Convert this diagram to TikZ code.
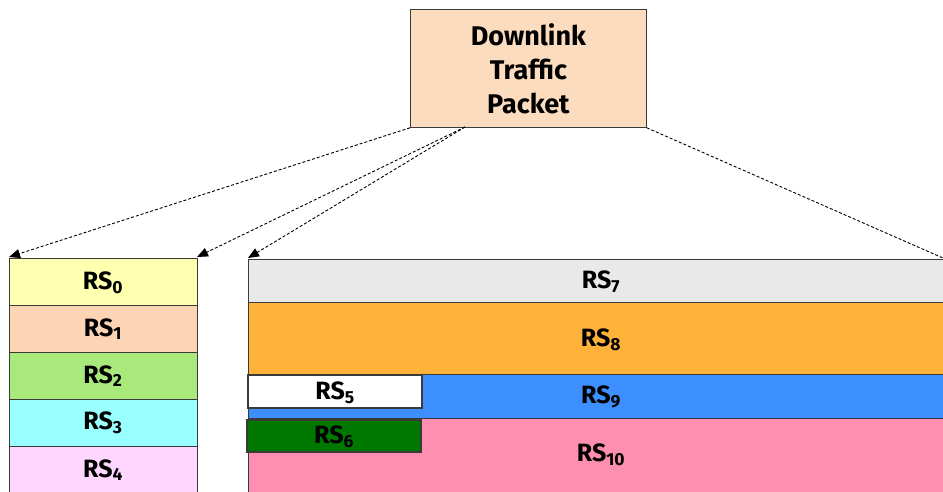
\documentclass[tikz,border=0pt]{standalone}
\usepackage{fontspec}
\setmainfont{Fira Sans}
\usetikzlibrary{arrows.meta}
\definecolor{packetfill}{HTML}{FCDCBE}
\definecolor{rsyellow}{HTML}{FFFFB0}
\definecolor{rspeach}{HTML}{FCD5B4}
\definecolor{rsgreen}{HTML}{A9E97C}
\definecolor{rscyan}{HTML}{99FFFF}
\definecolor{rspink}{HTML}{FFD6FF}
\definecolor{rsgray}{HTML}{E9E9E9}
\definecolor{rsorange}{HTML}{FFB23A}
\definecolor{rsblue}{HTML}{3D8FFF}
\definecolor{rsrose}{HTML}{FF8FB0}
\definecolor{rsdark}{HTML}{007800}
\definecolor{edge}{HTML}{3A3A3A}
\begin{document}
\begin{tikzpicture}[x=1pt,y=-1pt,
  band/.style={draw=edge,line width=0.8pt},
  lbl/.style={font=\bfseries\fontsize{25}{28}\selectfont,inner sep=0pt},
  feed/.style={densely dashed,line width=0.9pt,black,-{Triangle[length=11pt,width=9pt]}}]
\useasboundingbox (0,0) rectangle (943,491);

% source packet
\node[band,fill=packetfill,minimum width=236pt,minimum height=118pt,anchor=north west,
  align=center,font=\bfseries\fontsize{27}{34}\selectfont,inner sep=0pt] (pkt) at (410,9)
  {Downlink\\Traffic\\Packet};

% left stack RS0..RS4
\draw[band,fill=rsyellow] (9,258) rectangle (197,305);
\draw[band,fill=rspeach]  (9,305) rectangle (197,352);
\draw[band,fill=rsgreen]  (9,352) rectangle (197,399);
\draw[band,fill=rscyan]   (9,399) rectangle (197,446);
\draw[band,fill=rspink]   (9,446) rectangle (197,500);
\node[lbl] (rs0) at (103,283) {RS\textsubscript{0}};
\node[lbl] (rs1) at (103,329) {RS\textsubscript{1}};
\node[lbl] (rs2) at (103,376) {RS\textsubscript{2}};
\node[lbl] (rs3) at (103,423) {RS\textsubscript{3}};
\node[lbl] (rs4) at (103,470) {RS\textsubscript{4}};

% right stack RS7..RS10
\draw[band,fill=rsgray]   (248,259) rectangle (950,302);
\draw[band,fill=rsorange] (248,302) rectangle (950,374);
\draw[band,fill=rsblue]   (248,374) rectangle (950,418);
\draw[band,fill=rsrose]   (248,418) rectangle (950,500);
\node[lbl] (rs7)  at (601,282) {RS\textsubscript{7}};
\node[lbl] (rs8)  at (601,340) {RS\textsubscript{8}};
\node[lbl] (rs9)  at (601,397) {RS\textsubscript{9}};
\node[lbl] (rs10) at (601,455) {RS\textsubscript{10}};

% inserted blocks RS5, RS6
\draw[band,line width=1.2pt,fill=white]  (248,375) rectangle (422,408);
\draw[band,line width=1.2pt,fill=rsdark] (247,420) rectangle (421,452);
\node[lbl] (rs5) at (335,393) {RS\textsubscript{5}};
\node[lbl] (rs6) at (334,437) {RS\textsubscript{6}};

% anchor points of the feeds
\coordinate (lefta) at (9,257);
\coordinate (leftb) at (197,257);
\coordinate (righta) at (248,258);
\coordinate (rightb) at (943,258);
\coordinate (pkta) at (465,127);

\draw[feed] (pkt.south west) -- (lefta);
\draw[feed] (pkta) -- (leftb);
\draw[feed] (pkta) -- (righta);
\draw[densely dashed,line width=0.9pt] (pkt.south east) -- (rightb);
\end{tikzpicture}
\end{document}
